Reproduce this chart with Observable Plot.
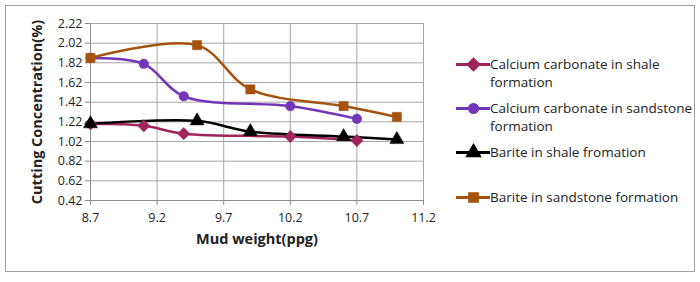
<!DOCTYPE html>
<html><head><meta charset="utf-8">
<script src="https://cdn.jsdelivr.net/npm/d3@7"></script>
<script src="https://cdn.jsdelivr.net/npm/@observablehq/plot@0.6"></script>
<style>
body{margin:0;background:#fff;font-family:"Open Sans",sans-serif;}
#wrap{position:relative;width:700px;height:282px;overflow:hidden;}
#frame{position:absolute;left:5px;top:5px;width:688px;height:265px;border:1.5px solid #a0a0a0;}
#chart{position:absolute;left:0;top:0;}
#legend{position:absolute;left:456px;top:0;font-size:13.5px;color:#222;}
.li{position:absolute;left:0;display:flex;align-items:flex-start;white-space:nowrap;line-height:18px;}
.li svg{flex:none;margin-top:2px}
</style></head><body>
<div id="wrap"><div id="frame"></div><div id="chart"></div><div id="legend"></div></div>
<script>
const xTicks = [8.7, 9.2, 9.7, 10.2, 10.7, 11.2];
const yTicks = [0.42, 0.62, 0.82, 1.02, 1.22, 1.42, 1.62, 1.82, 2.02, 2.22];

const seriesNames = [
  "Calcium carbonate in shale formation",
  "Calcium carbonate in sandstone formation",
  "Barite in shale fromation",
  "Barite in sandstone formation"
];
const seriesColors = ["#a0245a", "#7436b8", "#000000", "#a5520f"];
const seriesSymbols = ["diamond2", "circle", "triangle", "square"];

const caShaleX = [8.7, 9.1, 9.4, 10.2, 10.7];
const caShaleY = [1.20, 1.18, 1.10, 1.07, 1.03];
const caSandX = [8.7, 9.1, 9.4, 10.2, 10.7];
const caSandY = [1.87, 1.81, 1.48, 1.38, 1.25];
const baShaleX = [8.7, 9.5, 9.9, 10.6, 11.0];
const baShaleY = [1.20, 1.23, 1.12, 1.07, 1.04];
const baSandX = [8.7, 9.5, 9.9, 10.6, 11.0];
const baSandY = [1.87, 2.00, 1.55, 1.38, 1.27];

const xs = [caShaleX, caSandX, baShaleX, baSandX];
const ys = [caShaleY, caSandY, baShaleY, baSandY];
const data = seriesNames.flatMap((s, i) => xs[i].map((x, j) => ({series: s, x, y: ys[i][j], idx: i})));

const markSizes = [5.6, 4.8, 5.2, 5.2];

const marks = [
  Plot.gridX(xTicks, {stroke: "#a6a6a6", strokeOpacity: 1, strokeWidth: 1}),
  Plot.gridY(yTicks, {stroke: "#a6a6a6", strokeOpacity: 1, strokeWidth: 1}),
  Plot.ruleX([8.7], {stroke: "#8c8c8c", strokeWidth: 1}),
  Plot.ruleY([0.42], {stroke: "#8c8c8c", strokeWidth: 1}),
  Plot.axisX({ticks: xTicks, tickSize: 5, tickPadding: 8, stroke: "#8c8c8c", fill: "#222", fontSize: 12.5, label: null, tickFormat: d => String(d)}),
  Plot.axisY({ticks: yTicks, tickSize: 5, tickPadding: 3, stroke: "#8c8c8c", fill: "#222", fontSize: 12.5, label: null, tickFormat: d => d.toFixed(2)})
];
seriesNames.forEach((s, i) => {
  const d = data.filter(e => e.idx === i);
  marks.push(Plot.line(d, {x: "x", y: "y", stroke: seriesColors[i], strokeWidth: 2.5, curve: "catmull-rom"}));
});
seriesNames.forEach((s, i) => {
  const d = data.filter(e => e.idx === i);
  marks.push(Plot.dot(d, {x: "x", y: "y", fill: seriesColors[i], stroke: seriesColors[i], strokeWidth: 0.5, symbol: seriesSymbols[i], r: markSizes[i]}));
});

const chart = Plot.plot({
  width: 700, height: 282,
  marginLeft: 90, marginRight: 277, marginTop: 23, marginBottom: 82,
  x: {domain: [8.7, 11.2]},
  y: {domain: [0.42, 2.22]},
  style: {fontFamily: "Open Sans, sans-serif", background: "transparent", overflow: "visible"},
  marks: [
    ...marks,
    Plot.text(["Mud weight(ppg)"], {frameAnchor: "bottom", dy: 43, fontSize: 14.5, fontWeight: "bold", fill: "#222"}),
    Plot.text(["Cutting Concentration(%)"], {frameAnchor: "left", dx: -53, rotate: -90, textAnchor: "middle", fontSize: 14.5, fontWeight: "bold", fill: "#222"})
  ]
});
document.getElementById("chart").appendChild(chart);

// legend
const legendTops = [55, 99, 143, 188];
const legendLabels = [
  ["Calcium carbonate in shale", "formation"],
  ["Calcium carbonate in sandstone", "formation"],
  ["Barite in shale fromation"],
  ["Barite in sandstone formation"]
];
const lg = document.getElementById("legend");
seriesNames.forEach((s, i) => {
  const item = document.createElement("div");
  item.className = "li";
  item.style.top = legendTops[i] + "px";
  const sw = Plot.plot({
    width: 34, height: 14, margin: 0,
    x: {domain: [0, 1], axis: null}, y: {domain: [0, 1], axis: null},
    style: {background: "transparent", overflow: "visible"},
    marks: [
      Plot.ruleY([0.5], {stroke: seriesColors[i], strokeWidth: 3}),
      Plot.dot([0.5], {x: d => d, y: 0.5, symbol: seriesSymbols[i], r: markSizes[i], fill: seriesColors[i], stroke: seriesColors[i]})
    ]
  });
  item.appendChild(sw);
  const t = document.createElement("div");
  t.innerHTML = legendLabels[i].join("<br>");
  item.appendChild(t);
  lg.appendChild(item);
});
</script>
</body></html>
